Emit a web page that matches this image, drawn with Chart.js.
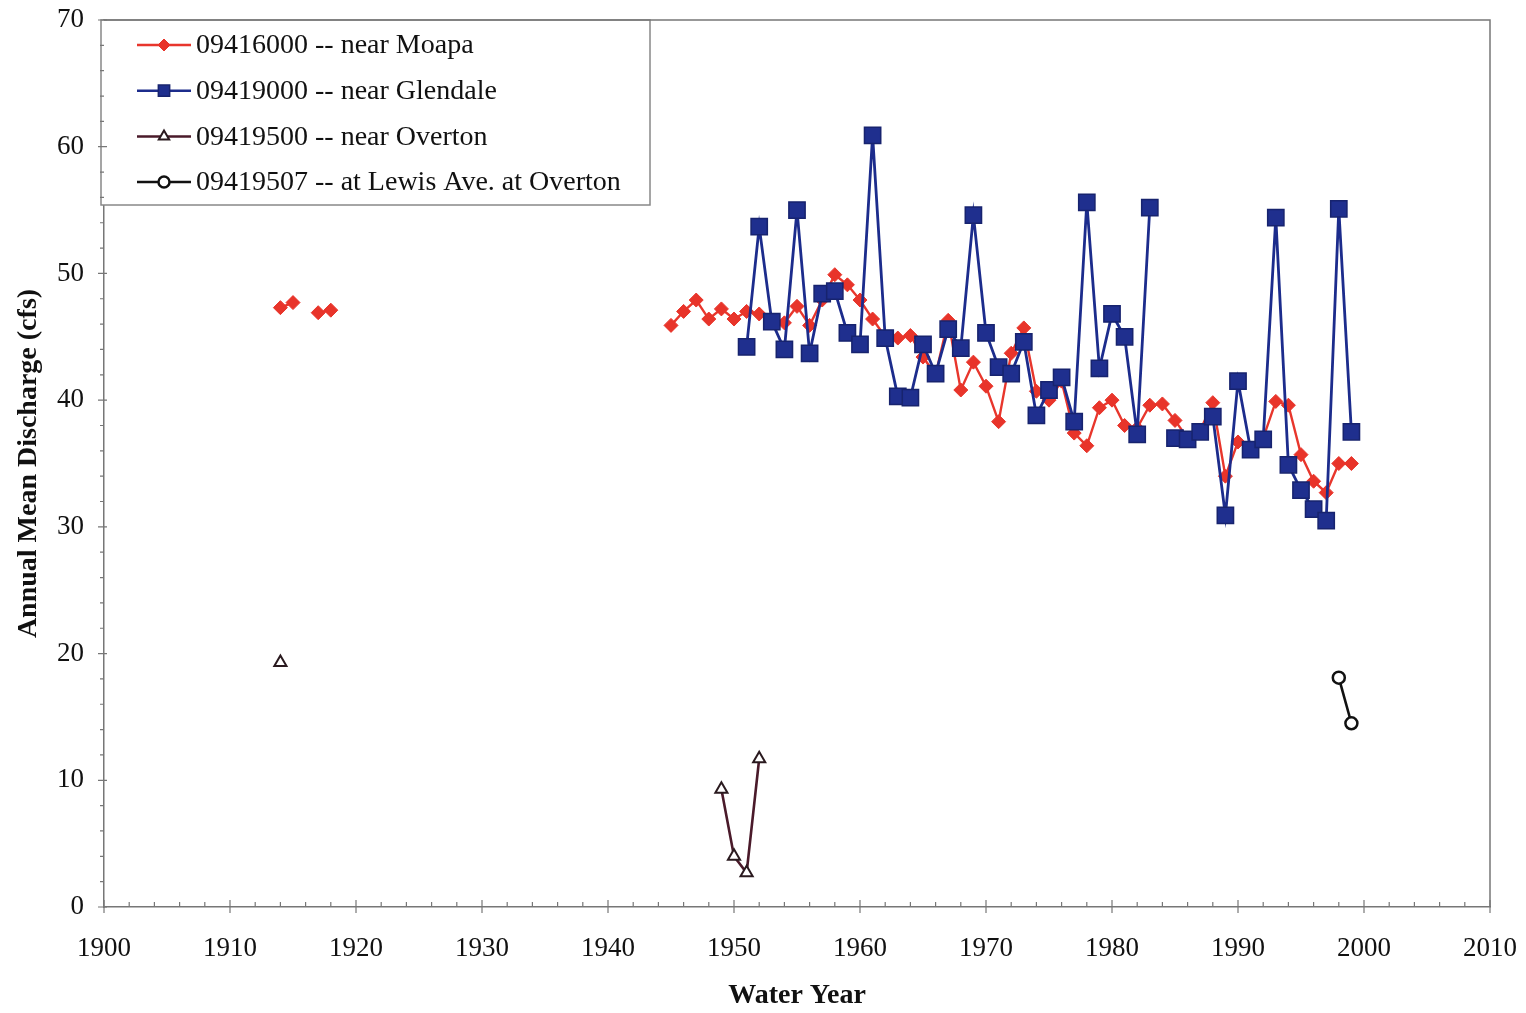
<!DOCTYPE html>
<html>
<head>
<meta charset="utf-8">
<script src="https://cdn.jsdelivr.net/npm/chart.js@4/dist/chart.umd.min.js"></script>
<style>
  html, body { margin: 0; padding: 0; background: #fff; }
  #wrap { width: 1526px; height: 1013px; }
</style>
</head>
<body>
<div id="wrap"><canvas id="chart" width="1526" height="1013"></canvas></div>
<script>
// station labels
const seriesLabels = [
  "09416000 -- near Moapa",
  "09419000 -- near Glendale",
  "09419500 -- near Overton",
  "09419507 -- at Lewis Ave. at Overton"
];

// 09416000 near Moapa (null = no record, breaks the line)
const moapaYears = [1914, 1915, 1916, 1917, 1918, 1919,
  1945, 1946, 1947, 1948, 1949, 1950, 1951, 1952, 1953, 1954, 1955, 1956, 1957, 1958, 1959,
  1960, 1961, 1962, 1963, 1964, 1965, 1966, 1967, 1968, 1969, 1970, 1971, 1972, 1973, 1974,
  1975, 1976, 1977, 1978, 1979, 1980, 1981, 1982, 1983, 1984, 1985, 1986, 1987, 1988, 1989,
  1990, 1991, 1992, 1993, 1994, 1995, 1996, 1997, 1998, 1999];
const moapaValues = [47.3, 47.7, null, 46.9, 47.1, null,
  45.9, 47.0, 47.9, 46.4, 47.2, 46.4, 47.0, 46.8, 46.3, 46.1, 47.4, 45.9, 47.9, 49.9, 49.1,
  47.9, 46.4, 45.0, 44.9, 45.1, 43.4, 42.0, 46.3, 40.8, 43.0, 41.1, 38.3, 43.7, 45.7, 40.7,
  40.0, 41.5, 37.4, 36.4, 39.4, 40.0, 38.0, 37.8, 39.6, 39.7, 38.4, 37.0, 37.6, 39.8, 34.0,
  36.7, 36.2, 37.0, 39.9, 39.6, 35.7, 33.6, 32.7, 35.0, 35.0];

// 09419000 near Glendale
const glendaleYears = [1951, 1952, 1953, 1954, 1955, 1956, 1957, 1958, 1959,
  1960, 1961, 1962, 1963, 1964, 1965, 1966, 1967, 1968, 1969, 1970, 1971, 1972, 1973, 1974,
  1975, 1976, 1977, 1978, 1979, 1980, 1981, 1982, 1983, 1984, 1985, 1986, 1987, 1988, 1989,
  1990, 1991, 1992, 1993, 1994, 1995, 1996, 1997, 1998, 1999];
const glendaleValues = [44.2, 53.7, 46.2, 44.0, 55.0, 43.7, 48.4, 48.6, 45.3,
  44.4, 60.9, 44.9, 40.3, 40.2, 44.4, 42.1, 45.6, 44.1, 54.6, 45.3, 42.6, 42.1, 44.6, 38.8,
  40.8, 41.8, 38.3, 55.6, 42.5, 46.8, 45.0, 37.3, 55.2, null, 37.0, 36.9, 37.5, 38.7, 30.9,
  41.5, 36.1, 36.9, 54.4, 34.9, 32.9, 31.4, 30.5, 55.1, 37.5];

// 09419500 near Overton
const overtonYears = [1914, 1915, 1949, 1950, 1951, 1952];
const overtonValues = [19.3, null, 9.3, 4.0, 2.7, 11.7];

// 09419507 at Lewis Ave. at Overton
const lewisYears = [1998, 1999];
const lewisValues = [18.1, 14.5];

// axes
const xTicks = [1900, 1910, 1920, 1930, 1940, 1950, 1960, 1970, 1980, 1990, 2000, 2010];
const yTicks = [0, 10, 20, 30, 40, 50, 60, 70];

const toPoints = (xs, ys) => xs.map((yr, i) => ({ x: yr, y: ys[i] }));
const serif = '"Liberation Serif", "Times New Roman", serif';

// frame (top/right edges) and major/minor tick marks
const framePlugin = {
  id: "frame",
  afterDraw(chart) {
    const { ctx, chartArea, scales } = chart;
    const { left, right, top, bottom } = chartArea;
    ctx.save();
    ctx.strokeStyle = "#777";
    ctx.lineWidth = 1.5;
    ctx.beginPath();
    ctx.moveTo(left, top);
    ctx.lineTo(right, top);
    ctx.lineTo(right, bottom);
    ctx.stroke();

    ctx.lineWidth = 1.2;
    ctx.beginPath();
    for (let yr = xTicks[0]; yr <= xTicks[xTicks.length - 1]; yr += 2) {
      const px = scales.x.getPixelForValue(yr);
      if (yr % 10 === 0) {
        ctx.moveTo(px, bottom - 7);
        ctx.lineTo(px, bottom + 6);
      } else {
        ctx.moveTo(px, bottom - 5);
        ctx.lineTo(px, bottom);
      }
    }
    for (let v = yTicks[0]; v <= yTicks[yTicks.length - 1]; v += 2) {
      const py = scales.y.getPixelForValue(v);
      if (v % 10 === 0) {
        ctx.moveTo(left - 6, py);
        ctx.lineTo(left + 3, py);
      } else {
        ctx.moveTo(left - 4, py);
        ctx.lineTo(left, py);
      }
    }
    ctx.stroke();
    ctx.restore();
  }
};

// boxed legend inside the plot, top-left
const boxLegend = {
  id: "boxLegend",
  afterDatasetsDraw(chart) {
    const { ctx, chartArea } = chart;
    const bx = chartArea.left - 3, by = chartArea.top;
    const bw = 549, bh = 185;
    ctx.save();
    ctx.fillStyle = "#fff";
    ctx.fillRect(bx, by, bw, bh);
    ctx.strokeStyle = "#888";
    ctx.lineWidth = 1.5;
    ctx.strokeRect(bx, by, bw, bh);

    chart.data.datasets.forEach((ds, i) => {
      const cy = by + 25 + i * 45.7;
      ctx.strokeStyle = ds.borderColor;
      ctx.lineWidth = 2.5;
      ctx.beginPath();
      ctx.moveTo(bx + 36, cy);
      ctx.lineTo(bx + 90, cy);
      ctx.stroke();
      ctx.fillStyle = ds.pointBackgroundColor;
      ctx.strokeStyle = ds.pointBorderColor;
      ctx.lineWidth = ds.pointBorderWidth;
      Chart.helpers.drawPoint(ctx, {
        pointStyle: ds.pointStyle,
        radius: ds.legendRadius,
        borderWidth: ds.pointBorderWidth,
        rotation: 0
      }, bx + 63, cy);
      ctx.fillStyle = "#111";
      ctx.font = "28px " + serif;
      ctx.textBaseline = "middle";
      ctx.fillText(ds.label, bx + 95, cy + 1);
    });
    ctx.restore();
  }
};

new Chart(document.getElementById("chart"), {
  type: "line",
  data: {
    datasets: [
      {
        label: seriesLabels[0],
        data: toPoints(moapaYears, moapaValues),
        borderColor: "#e8362c",
        borderWidth: 2.4,
        pointStyle: "rectRot",
        pointRadius: 7,
        legendRadius: 6,
        pointBackgroundColor: "#e8342a",
        pointBorderColor: "#e8342a",
        pointBorderWidth: 1,
        order: 2
      },
      {
        label: seriesLabels[1],
        data: toPoints(glendaleYears, glendaleValues),
        borderColor: "#1c2c8c",
        borderWidth: 2.8,
        pointStyle: "rect",
        pointRadius: 11.5,
        legendRadius: 8,
        pointBackgroundColor: "#1f2f8e",
        pointBorderColor: "#17236e",
        pointBorderWidth: 1.5,
        order: 1
      },
      {
        label: seriesLabels[2],
        data: toPoints(overtonYears, overtonValues),
        borderColor: "#4a1a2a",
        borderWidth: 2.6,
        pointStyle: "triangle",
        pointRadius: 7,
        legendRadius: 6,
        pointBackgroundColor: "#fff",
        pointBorderColor: "#2a1a1f",
        pointBorderWidth: 2,
        order: 0
      },
      {
        label: seriesLabels[3],
        data: toPoints(lewisYears, lewisValues),
        borderColor: "#111",
        borderWidth: 2.6,
        pointStyle: "circle",
        pointRadius: 6,
        legendRadius: 5.5,
        pointBackgroundColor: "#fff",
        pointBorderColor: "#111",
        pointBorderWidth: 2.5,
        order: 0
      }
    ]
  },
  options: {
    responsive: false,
    animation: false,
    spanGaps: false,
    elements: { line: { tension: 0 } },
    layout: { padding: { top: 20, right: 36, left: 0, bottom: 0 } },
    plugins: {
      legend: { display: false },
      tooltip: { enabled: false }
    },
    scales: {
      x: {
        type: "linear",
        min: 1900,
        max: 2010,
        afterBuildTicks: (scale) => { scale.ticks = xTicks.map((v) => ({ value: v })); },
        afterFit: (scale) => {
          scale.height = 106;
          scale.paddingLeft = 0;
          scale.paddingRight = 0;
        },
        grid: { display: false, drawTicks: false },
        border: { display: true, color: "#777", width: 1.5 },
        ticks: {
          color: "#111",
          font: { family: serif, size: 27 },
          padding: 26,
          maxRotation: 0,
          callback: (v) => String(v)
        },
        title: {
          display: true,
          text: "Water Year",
          color: "#111",
          font: { family: serif, size: 28, weight: "bold" },
          padding: { top: 2, bottom: 0 }
        }
      },
      y: {
        type: "linear",
        min: 0,
        max: 70,
        afterBuildTicks: (scale) => { scale.ticks = yTicks.map((v) => ({ value: v })); },
        afterFit: (scale) => {
          scale.width = 104;
          scale.paddingTop = 0;
          scale.paddingBottom = 0;
        },
        grid: { display: false, drawTicks: false },
        border: { display: true, color: "#777", width: 1.5 },
        ticks: {
          color: "#111",
          font: { family: serif, size: 27 },
          padding: 20,
          callback: (v) => String(v)
        },
        title: {
          display: true,
          text: "Annual Mean Discharge (cfs)",
          color: "#111",
          font: { family: serif, size: 28, weight: "bold" },
          padding: { top: 12, bottom: 0 }
        }
      }
    }
  },
  plugins: [framePlugin, boxLegend]
});
</script>
</body>
</html>
